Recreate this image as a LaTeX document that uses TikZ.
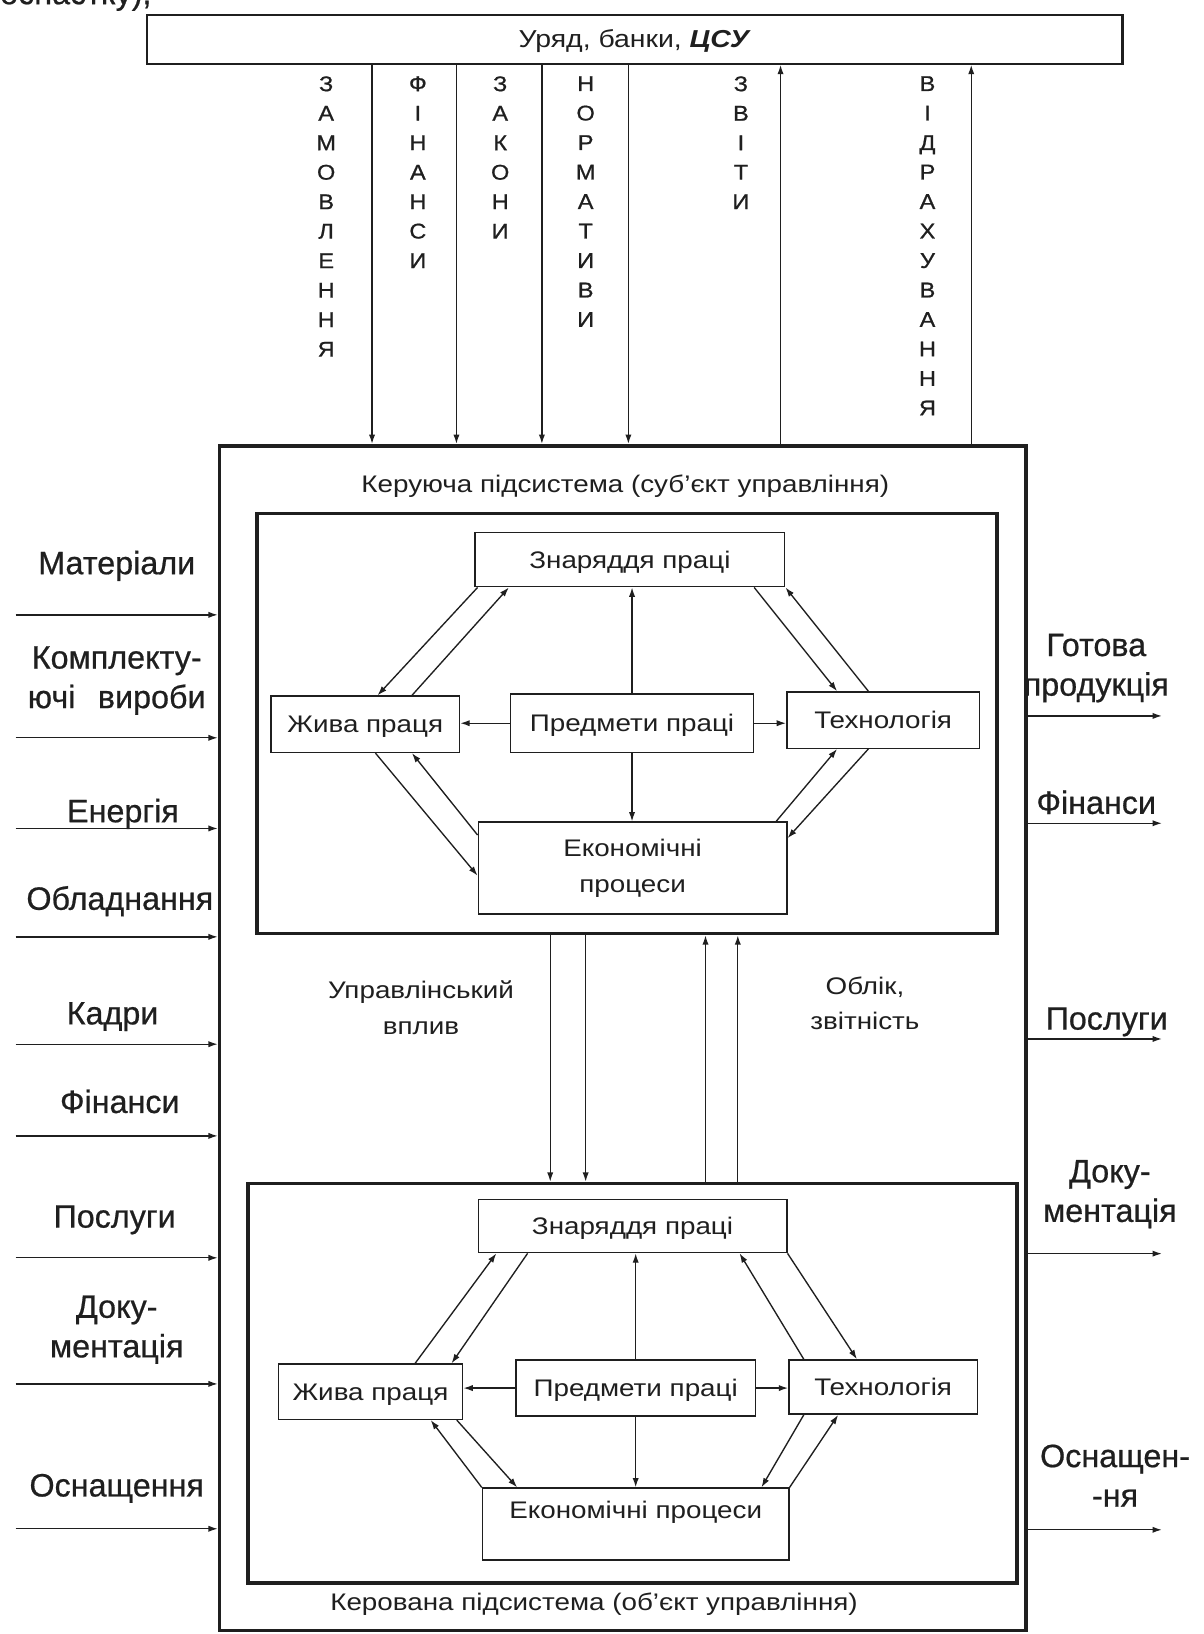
\documentclass[tikz,border=0pt]{standalone}
\usepackage{fontspec}
\setmainfont{Liberation Sans}[FakeBold=0.6]
\newfontfamily\dfont{Liberation Sans}[FakeStretch=1.16]
\newfontfamily\vfont{Liberation Sans}[FakeStretch=1.1,FakeBold=0.8]
\usetikzlibrary{arrows.meta}
\definecolor{ink}{gray}{0.12}
\begin{document}
\begin{tikzpicture}[x=1pt,y=-1pt,
  every node/.style={text=ink},
  arr/.style={draw=ink, line width=1.3pt, -{Latex[length=9pt,width=6pt]}},
  sbox/.style={draw=ink, line width=1.4pt, inner sep=0pt, font=\dfont\fontsize{23}{28}\selectfont, text height=16.5pt, text depth=0pt},
  mbox/.style={draw=ink, line width=1.4pt, inner sep=0pt, align=center, font=\dfont\fontsize{23}{35}\selectfont},
  cont/.style={draw=ink, line width=3.5pt, inner sep=0pt, anchor=north west},
  vlet/.style={anchor=north, inner sep=0pt, align=center, font=\vfont\fontsize{20.5}{28.3}\selectfont},
  side/.style={inner sep=0pt, align=center, font=\fontsize{31}{38}\selectfont},
  mid/.style={inner sep=0pt, align=center, font=\dfont\fontsize{23}{34}\selectfont}
]
\fill[white] (0,0) rectangle (1155,1568);
\useasboundingbox (0,0) rectangle (1155,1568);

% cut-off line of text at the top (cropped in the reference too)
\node[side, anchor=base west] (frag) at (0,4) {оснастку),};

% top box
\node[draw=ink, line width=2.2pt, minimum width=936pt, minimum height=47pt, anchor=north west, inner sep=0pt,
      font=\dfont\fontsize{23.5}{28}\selectfont, text height=16.5pt, text depth=0pt] (TB) at (140,13) {Уряд, банки, \textbf{\textit{ЦСУ}}};

% containers
\node[cont, minimum width=774pt, minimum height=1137pt] (OB) at (209,426) {};
\node[cont, minimum width=710pt, minimum height=403pt] (UB) at (245,491) {};
\node[cont, minimum width=738pt, minimum height=383pt] (LB) at (236,1134) {};

\node[mid, anchor=base] (kerujucha) at (600,473) {Керуюча підсистема (суб’єкт управління)};
\node[mid, anchor=base] (kerovana) at (570,1545) {Керована підсистема (об’єкт управління)};

% vertical labels
\node[vlet] (tzam) at (313,73) {З\\А\\М\\О\\В\\Л\\Е\\Н\\Н\\Я};
\node[vlet] (tfin) at (401,73) {Ф\\І\\Н\\А\\Н\\С\\И};
\node[vlet] (tzak) at (480,73) {З\\А\\К\\О\\Н\\И};
\node[vlet] (tnor) at (562,73) {Н\\О\\Р\\М\\А\\Т\\И\\В\\И};
\node[vlet] (tzvi) at (711,73) {З\\В\\І\\Т\\И};
\node[vlet] (tvid) at (890,73) {В\\І\\Д\\Р\\А\\Х\\У\\В\\А\\Н\\Н\\Я};

% top vertical connectors
\coordinate (v1) at (357,0);
\coordinate (v2) at (438,0);
\coordinate (v3) at (520,0);
\coordinate (v4) at (603,0);
\coordinate (v5) at (749,0);
\coordinate (v6) at (932,0);
\draw[arr] (v1 |- TB.south) -- (v1 |- OB.north);
\draw[arr] (v2 |- TB.south) -- (v2 |- OB.north);
\draw[arr] (v3 |- TB.south) -- (v3 |- OB.north);
\draw[arr] (v4 |- TB.south) -- (v4 |- OB.north);
\draw[arr] (v5 |- OB.north) -- (v5 |- TB.south);
\draw[arr] (v6 |- OB.north) -- (v6 |- TB.south);

% upper subsystem boxes
\node[sbox, minimum width=297pt, minimum height=52pt] (UZ) at (604.5,537) {Знаряддя праці};
\node[sbox, minimum width=181pt, minimum height=54pt] (UL) at (350.5,695) {Жива праця};
\node[sbox, minimum width=233pt, minimum height=56pt] (UP) at (606.5,694) {Предмети праці};
\node[sbox, minimum width=185pt, minimum height=54pt] (UT) at (847.5,691) {Технологія};
\node[mbox, minimum width=296pt, minimum height=88pt] (UE) at (607,833) {Економічні\\процеси};

\draw[arr] (UP.north) -- (UP.north |- UZ.south);
\draw[arr] (UP.south) -- (UP.south |- UE.north);
\draw[arr] (UP.west) -- (UP.west -| UL.east);
\draw[arr] (UP.east) -- (UP.east -| UT.west);
\draw[arr] ([xshift=3pt]UZ.south west) -- ([xshift=103pt]UL.north west);
\draw[arr] ([xshift=136pt]UL.north west) -- ([xshift=33pt]UZ.south west);
\draw[arr] ([xshift=-30pt]UZ.south east) -- ([xshift=49pt]UT.north west);
\draw[arr] ([xshift=79pt]UT.north west) -- (UZ.south east);
\draw[arr] ([xshift=101pt]UL.south west) -- ([yshift=-52pt]UE.north west);
\draw[arr] ([yshift=-13pt]UE.north west) -- ([xshift=136pt]UL.south west);
\draw[arr] ([xshift=-11pt]UE.north east) -- ([xshift=49pt]UT.south west);
\draw[arr] ([xshift=79pt]UT.south west) -- ([yshift=-16pt]UE.north east);

% lower subsystem boxes
\node[sbox, minimum width=296pt, minimum height=51pt] (LZ) at (607,1176.5) {Знаряддя праці};
\node[sbox, minimum width=177pt, minimum height=53pt] (LL) at (355.5,1335.5) {Жива праця};
\node[sbox, minimum width=230pt, minimum height=54pt] (LP) at (610,1332) {Предмети праці};
\node[sbox, minimum width=181pt, minimum height=52pt] (LT) at (847.5,1331) {Технологія};
\node[sbox, minimum width=294pt, minimum height=69pt, text depth=27pt] (LE) at (610,1462.5) {Економічні процеси};

\draw[arr] (LP.north) -- (LP.north |- LZ.south);
\draw[arr] (LP.south) -- (LP.south |- LE.north);
\draw[arr] (LP.west) -- (LP.west -| LL.east);
\draw[arr] (LP.east) -- (LP.east -| LT.west);
\draw[arr] ([xshift=132pt]LL.north west) -- ([xshift=18pt]LZ.south west);
\draw[arr] ([xshift=48pt]LZ.south west) -- ([xshift=167pt]LL.north west);
\draw[arr] ([xshift=15pt]LT.north west) -- ([xshift=-46pt]LZ.south east);
\draw[arr] (LZ.south east) -- ([xshift=66pt]LT.north west);
\draw[arr] (LE.north west) -- ([xshift=147pt]LL.south west);
\draw[arr] ([xshift=172pt]LL.south west) -- ([xshift=34pt]LE.north west);
\draw[arr] ([xshift=15pt]LT.south west) -- ([xshift=-27pt]LE.north east);
\draw[arr] (LE.north east) -- ([xshift=48pt]LT.south west);

% connections between subsystems
\coordinate (m1) at (528,0);
\coordinate (m2) at (562,0);
\coordinate (m3) at (677,0);
\coordinate (m4) at (708,0);
\draw[arr] (m1 |- UB.south) -- (m1 |- LB.north);
\draw[arr] (m2 |- UB.south) -- (m2 |- LB.north);
\draw[arr] (m3 |- LB.north) -- (m3 |- UB.south);
\draw[arr] (m4 |- LB.north) -- (m4 |- UB.south);
\node[mid, anchor=north] (upr) at (404,941) {Управлінський\\вплив};
\node[mid, anchor=north] (obl) at (830,937) {Облік,\\звітність};

% inputs
\node[side, anchor=base] (l1) at (112,551) {Матеріали};
\node[side, anchor=north] (l2) at (112,620) {Комплекту-\\ючі\hspace{13pt} вироби};
\node[side, anchor=base] (l3) at (118,789) {Енергія};
\node[side, anchor=base] (l4) at (115,873) {Обладнання};
\node[side, anchor=base] (l5) at (108,983) {Кадри};
\node[side, anchor=base] (l6) at (115,1068) {Фінанси};
\node[side, anchor=base] (l7) at (110,1178) {Послуги};
\node[side, anchor=north] (l8) at (112,1243) {Доку-\\ментація};
\node[side, anchor=base] (l9) at (112,1436) {Оснащення};
\coordinate (i1) at (15,590);
\coordinate (i2) at (15,708);
\coordinate (i3) at (15,795);
\coordinate (i4) at (15,899);
\coordinate (i5) at (15,1002);
\coordinate (i6) at (15,1090);
\coordinate (i7) at (15,1207);
\coordinate (i8) at (15,1328);
\coordinate (i9) at (15,1467);
\foreach \i in {1,...,9} {\draw[arr] (i\i) -- (i\i -| OB.west);}

% outputs
\node[side, anchor=north] (r1) at (1052,608) {Готова\\продукція};
\node[side, anchor=base] (r2) at (1052,781) {Фінанси};
\node[side, anchor=base] (r3) at (1062,988) {Послуги};
\node[side, anchor=north] (r4) at (1065,1113) {Доку-\\ментація};
\node[side, anchor=north] (r5) at (1070,1386) {Оснащен-\\-ня};
\coordinate (o1) at (1115,687);
\coordinate (o2) at (1115,790);
\coordinate (o3) at (1115,997);
\coordinate (o4) at (1115,1203);
\coordinate (o5) at (1115,1468);
\foreach \i in {1,...,5} {\draw[arr] (o\i -| OB.east) -- (o\i);}
\end{tikzpicture}
\end{document}
